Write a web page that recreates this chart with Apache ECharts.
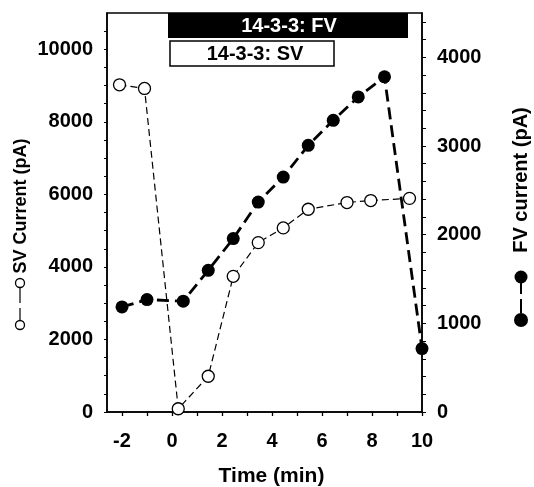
<!DOCTYPE html>
<html>
<head>
<meta charset="utf-8">
<script src="https://cdn.jsdelivr.net/npm/echarts@6/dist/echarts.min.js"></script>
<style>html,body{margin:0;padding:0;background:#fff;}#c{width:534px;height:487px;}</style>
</head>
<body>
<div id="c"></div>
<script>
// ---- data ----
const svTime   = [-2.1, -1.1, 0.25, 1.45, 2.45, 3.45, 4.45, 5.45, 7.0, 7.95, 9.5];
const svValues = [9020, 8920, 90, 985, 3740, 4670, 5075, 5590, 5775, 5830, 5890];
const fvTime   = [-2.0, -1.0, 0.45, 1.45, 2.45, 3.45, 4.45, 5.45, 6.45, 7.45, 8.5, 10.0];
const fvValues = [1185, 1268, 1250, 1598, 1956, 2368, 2650, 3008, 3290, 3553, 3780, 715];
const xTickLabels  = [-2, 0, 2, 4, 6, 8, 10];
const xMinorTicks  = [-2, -1, 0, 1, 2, 3, 4, 5, 6, 7, 8, 9, 10];
const svTickLabels = [0, 2000, 4000, 6000, 8000, 10000];
const svMinorTicks = [0,500,1000,1500,2000,2500,3000,3500,4000,4500,5000,5500,6000,6500,7000,7500,8000,8500,9000,9500,10000,10500];
const fvTickLabels = [0, 1000, 2000, 3000, 4000];
const fvMinorTicks = [0,200,400,600,800,1000,1200,1400,1600,1800,2000,2200,2400,2600,2800,3000,3200,3400,3600,3800,4000,4200,4400];

const FONT = '"Liberation Sans", Arial, sans-serif';
const chart = echarts.init(document.getElementById('c'), null, {renderer: 'canvas'});

function zip(a, b) { return a.map((v, i) => [v, b[i]]); }
const plain = v => String(v);

const labelStyle = {color: '#000', fontFamily: FONT, fontWeight: 'bold', fontSize: 20, formatter: plain};

chart.setOption({
  animation: false,
  backgroundColor: '#fff',
  grid: {left: 107, right: 112, top: 13, bottom: 75, show: true, borderColor: '#000', borderWidth: 1.5, outerBoundsMode: 'none'},
  xAxis: {
    type: 'value', min: -2.6, max: 10,
    name: 'Time (min)', nameLocation: 'middle', nameGap: 54,
    nameTextStyle: {color: '#000', fontFamily: FONT, fontWeight: 'bold', fontSize: 21, padding: [0, 0, 0, 14]},
    axisLine: {show: true, onZero: false, lineStyle: {color: '#000', width: 1.5}},
    axisTick: {show: true, length: 4, customValues: xMinorTicks, lineStyle: {color: '#000', width: 1.3}},
    axisLabel: Object.assign({customValues: xTickLabels, margin: 19}, labelStyle),
    splitLine: {show: false}
  },
  yAxis: [{
    type: 'value', min: 0, max: 11000, position: 'left',
    axisLine: {show: true, onZero: false, lineStyle: {color: '#000', width: 1.5}},
    axisTick: {show: true, length: 3, customValues: svMinorTicks, lineStyle: {color: '#000', width: 1}},
    axisLabel: Object.assign({customValues: svTickLabels, margin: 14}, labelStyle),
    splitLine: {show: false}
  }, {
    type: 'value', min: 0, max: 4500, position: 'right',
    axisLine: {show: true, onZero: false, lineStyle: {color: '#000', width: 1.5}},
    axisTick: {show: true, length: 4, customValues: fvMinorTicks, lineStyle: {color: '#000', width: 1}},
    axisLabel: Object.assign({customValues: fvTickLabels, margin: 15}, labelStyle),
    splitLine: {show: false}
  }],
  series: [{
    name: 'SV', type: 'line', yAxisIndex: 0, clip: false, z: 2,
    data: zip(svTime, svValues),
    symbol: 'circle', symbolSize: 12, showAllSymbol: true,
    itemStyle: {color: '#fff', borderColor: '#000', borderWidth: 1.3},
    lineStyle: {color: '#000', width: 1.2, type: [7, 4]}
  }, {
    name: 'FV', type: 'line', yAxisIndex: 1, clip: false, z: 3,
    data: zip(fvTime, fvValues),
    symbol: 'circle', symbolSize: 13, showAllSymbol: true,
    itemStyle: {color: '#000', borderColor: '#000', borderWidth: 0},
    lineStyle: {color: '#000', width: 2.8, type: [12, 6]}
  }],
  graphic: [
    {type: 'rect', shape: {x: 168, y: 13, width: 240, height: 25}, style: {fill: '#000'}, z: 10},
    {type: 'text', x: 289, y: 26, z: 11, style: {text: '14-3-3: FV', fill: '#fff', font: 'bold 20px ' + FONT, textAlign: 'center', textVerticalAlign: 'middle'}},
    {type: 'rect', shape: {x: 170, y: 41, width: 164, height: 25}, style: {fill: '#fff', stroke: '#000', lineWidth: 1.5}, z: 10},
    {type: 'text', x: 255, y: 54, z: 11, style: {text: '14-3-3: SV', fill: '#000', font: 'bold 20px ' + FONT, textAlign: 'center', textVerticalAlign: 'middle'}},
    // left axis title with legend glyph
    {type: 'text', x: 21, y: 206, rotation: Math.PI / 2, z: 11, style: {text: 'SV Current (pA)', fill: '#000', font: 'bold 18px ' + FONT, textAlign: 'center', textVerticalAlign: 'middle'}},
    {type: 'line', shape: {x1: 20, y1: 287, x2: 20, y2: 321}, style: {stroke: '#000', lineWidth: 1.2, lineDash: [16, 5]}, z: 10},
    {type: 'circle', shape: {cx: 20, cy: 283, r: 4.5}, style: {fill: '#fff', stroke: '#000', lineWidth: 1.3}, z: 11},
    {type: 'circle', shape: {cx: 20, cy: 325, r: 4.5}, style: {fill: '#fff', stroke: '#000', lineWidth: 1.3}, z: 11},
    // right axis title with legend glyph
    {type: 'text', x: 521, y: 180, rotation: Math.PI / 2, z: 11, style: {text: 'FV current (pA)', fill: '#000', font: 'bold 20px ' + FONT, textAlign: 'center', textVerticalAlign: 'middle'}},
    {type: 'line', shape: {x1: 521, y1: 280, x2: 521, y2: 316}, style: {stroke: '#000', lineWidth: 2, lineDash: [14, 5]}, z: 10},
    {type: 'circle', shape: {cx: 521, cy: 277, r: 6.5}, style: {fill: '#000'}, z: 11},
    {type: 'circle', shape: {cx: 521, cy: 320, r: 7}, style: {fill: '#000'}, z: 11}
  ]
});
</script>
</body>
</html>
